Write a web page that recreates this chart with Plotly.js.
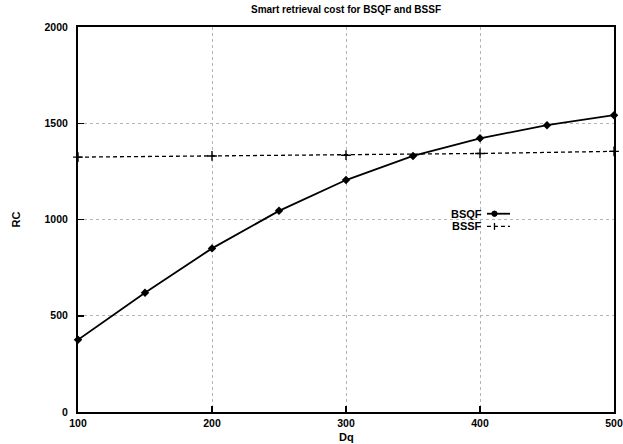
<!DOCTYPE html>
<html>
<head>
<meta charset="utf-8">
<script src="https://cdn.plot.ly/plotly-3.0.1.min.js"></script>
<style>
  html, body { margin: 0; padding: 0; background: #fff; }
  #chart { width: 623px; height: 444px; }
</style>
</head>
<body>
<div id="chart"></div>
<script>
// Query size Dq and retrieval cost RC for the two signature schemes
const dqBsqf = [100, 150, 200, 250, 300, 350, 400, 450, 500];
const bsqf = [375, 620, 850, 1045, 1205, 1330, 1422, 1490, 1542];
const dqBssf = [100, 200, 300, 400, 500];
const bssf = [1324, 1330, 1334, 1343, 1354];
const xTicks = [100, 200, 300, 400, 500];
const yTicks = [0, 500, 1000, 1500, 2000];
const seriesNames = ['BSQF', 'BSSF'];

const FONT = 'Liberation Sans, Arial, sans-serif';
const boldFont = (s) => ({ family: FONT, size: s, color: '#000', weight: 'bold' });

const traces = [
  {
    x: dqBsqf, y: bsqf, name: seriesNames[0], type: 'scatter', mode: 'lines+markers',
    line: { color: '#000', width: 1.8 },
    marker: { symbol: 'diamond', size: 6.5, color: '#000' },
    showlegend: false, cliponaxis: false
  },
  {
    x: dqBssf, y: bssf, name: seriesNames[1], type: 'scatter', mode: 'lines+markers',
    line: { color: '#000', width: 1.3, dash: '4px,3px' },
    marker: { symbol: 'cross-thin', size: 7, color: '#000', line: { color: '#000', width: 1.4 } },
    showlegend: false, cliponaxis: false
  }
];

const axisCommon = {
  showline: true, linecolor: '#000', linewidth: 2, mirror: true,
  ticks: 'inside', ticklen: 6, tickcolor: '#000', tickwidth: 1.5,
  showgrid: true, gridcolor: '#b4b4b4', griddash: 'dot', gridwidth: 1,
  zeroline: false, tickfont: boldFont(10.5)
};

// Legend drawn gnuplot-style: label on the left, line sample on the right
const legendY = [0.515, 0.482];
const annotations = seriesNames.map((n, i) => ({
  xref: 'paper', yref: 'paper', x: 0.758, y: legendY[i],
  xanchor: 'right', yanchor: 'middle', text: n, showarrow: false, font: boldFont(11)
}));
annotations.push({
  xref: 'paper', yref: 'paper', x: 0.5, y: -0.064, xanchor: 'center', yanchor: 'middle',
  text: 'Dq', showarrow: false, font: boldFont(11)
});
const shapes = [
  { type: 'line', xref: 'paper', yref: 'paper', x0: 0.763, x1: 0.806, y0: legendY[0], y1: legendY[0],
    line: { color: '#000', width: 1.8 } },
  { type: 'circle', xref: 'paper', yref: 'paper', x0: 0.772, x1: 0.782,
    y0: legendY[0] - 0.007, y1: legendY[0] + 0.007, fillcolor: '#000', line: { color: '#000', width: 1 } },
  { type: 'line', xref: 'paper', yref: 'paper', x0: 0.763, x1: 0.806, y0: legendY[1], y1: legendY[1],
    line: { color: '#000', width: 1.3, dash: '4px,3px' } },
  { type: 'line', xref: 'paper', yref: 'paper', x0: 0.777, x1: 0.777,
    y0: legendY[1] - 0.009, y1: legendY[1] + 0.009, line: { color: '#000', width: 1.3 } }
];

const layout = {
  width: 623, height: 444,
  margin: { l: 78, r: 9, t: 27, b: 32 },
  paper_bgcolor: '#fff', plot_bgcolor: '#fff',
  title: { text: 'Smart retrieval cost for BSQF and BSSF', font: boldFont(10),
           x: 0.5, xref: 'paper', y: 0.978, yanchor: 'middle' },
  xaxis: Object.assign({}, axisCommon, {
    range: [100, 500], tickvals: xTicks, ticktext: xTicks.map(String), ticklabelstandoff: 0
  }),
  yaxis: Object.assign({}, axisCommon, {
    range: [0, 2000], tickvals: yTicks, ticktext: yTicks.map(String), ticklabelstandoff: 6,
    title: { text: 'RC', font: boldFont(11), standoff: 22 }
  }),
  annotations: annotations,
  shapes: shapes,
  showlegend: false
};

Plotly.newPlot('chart', traces, layout, { displayModeBar: false, staticPlot: true });
</script>
</body>
</html>
